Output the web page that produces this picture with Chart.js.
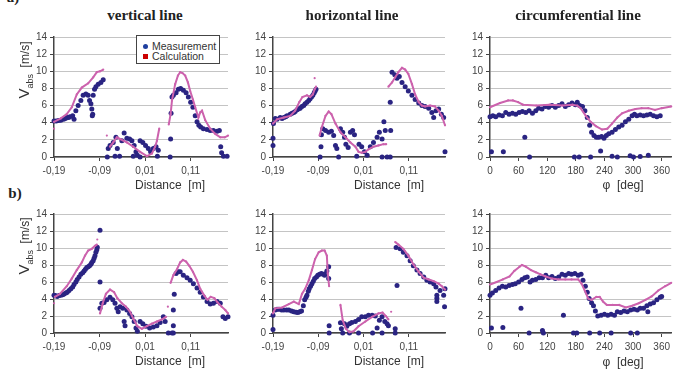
<!DOCTYPE html>
<html><head><meta charset="utf-8">
<script src="https://cdn.jsdelivr.net/npm/chart.js@4.4.1/dist/chart.umd.min.js"></script>
<style>
html,body{margin:0;padding:0;width:674px;height:371px;overflow:hidden;background:#fff;}
canvas{position:absolute;}
.t{position:absolute;white-space:nowrap;color:#222;z-index:5;}
.ttl{font:bold 15px 'Liberation Serif','Times New Roman',serif;transform:translate(-50%,-50%);}
.ax{font:12px 'Liberation Sans',Arial,sans-serif;color:#333;transform:translate(-50%,-50%);}
.yl{font:12px 'Liberation Sans',Arial,sans-serif;color:#333;transform:translate(-50%,-50%) rotate(-90deg);}
.lg{position:absolute;left:136px;top:35px;width:82px;height:27px;border:1px solid #444;background:#fff;z-index:6;font:10.5px 'Liberation Sans',Arial,sans-serif;color:#333;}
.lg div{position:absolute;left:6px;height:10px;line-height:10px;white-space:nowrap;}
.mk{display:inline-block;width:5px;height:5px;margin-right:4px;vertical-align:1px;}
</style></head><body>
<div class="t ttl" style="left:13px;top:-3px;">a)</div>
<div class="t ttl" style="left:15px;top:193px;">b)</div>
<div class="t ttl" style="left:145px;top:15px;">vertical line</div>
<div class="t ttl" style="left:352px;top:15px;">horizontal line</div>
<div class="t ttl" style="left:578px;top:15px;">circumferential line</div>
<div class="t yl" style="left:25px;top:70px;"><span style="font-size:15px">V</span><sub style="font-size:9px">abs</sub>&nbsp; [m/s]</div>
<div class="t yl" style="left:25px;top:246px;"><span style="font-size:15px">V</span><sub style="font-size:9px">abs</sub>&nbsp; [m/s]</div>
<div class="t ax" style="left:170px;top:185px;">Distance&nbsp; [m]</div>
<div class="t ax" style="left:389px;top:185px;">Distance&nbsp; [m]</div>
<div class="t ax" style="left:623px;top:185px;">&phi;&nbsp; [deg]</div>
<div class="t ax" style="left:170px;top:361px;">Distance&nbsp; [m]</div>
<div class="t ax" style="left:389px;top:361px;">Distance&nbsp; [m]</div>
<div class="t ax" style="left:623px;top:362px;">&phi;&nbsp; [deg]</div>
<div class="lg">
  <div style="top:5px;"><span class="mk" style="background:#1f3f9f;border-radius:50%;"></span>Measurement</div>
  <div style="top:15px;"><span class="mk" style="background:#cc0000;"></span>Calculation</div>
</div>
<script>
// ---- tick labels ----
const distTicks = [-0.19, -0.09, 0.01, 0.11];
const phiTicks = [0, 60, 120, 180, 240, 300, 360];
const vTicks = [0, 2, 4, 6, 8, 10, 12, 14];

// ---- a) vertical line ----
const vertA_calc = [
  [[-0.19,3.3]],
  [[-0.19,4.1],[-0.175,4.5],[-0.162,5.0],[-0.151,5.8],[-0.14,7.3],[-0.129,8.1],[-0.115,8.6],[-0.104,9.3],[-0.096,9.9],[-0.089,10.0],[-0.082,10.2]],
  [[-0.074,2.5]],
  [[-0.067,1.2],[-0.06,1.7],[-0.052,2.3],[-0.045,2.1],[-0.03,1.7],[-0.016,1.2],[-0.001,0.6],[0.014,0.1],[0.025,0.4],[0.032,1.2],[0.036,1.9],[0.041,3.3]],
  [[0.062,3.8],[0.066,5.0],[0.069,6.6],[0.076,8.5],[0.082,9.5],[0.087,9.9],[0.092,9.8],[0.098,9.5],[0.104,8.7],[0.109,7.7],[0.115,6.7],[0.12,5.8],[0.127,4.6],[0.131,5.2],[0.135,5.4],[0.142,4.3],[0.153,3.3],[0.164,2.7],[0.175,2.3],[0.185,2.3],[0.192,2.5]]
];
const vertA_meas = [
  [-0.19,4.2],[-0.185,4.2],[-0.18,4.25],[-0.175,4.3],[-0.169,4.4],[-0.165,4.5],[-0.162,4.6],[-0.158,4.6],[-0.155,4.7],[-0.149,4.8],[-0.146,4.4],[-0.142,5.4],[-0.137,6.0],[-0.131,6.6],[-0.126,7.2],[-0.12,7.35],[-0.115,7.2],[-0.112,6.6],[-0.109,6.2],[-0.107,5.6],[-0.105,5.0],[-0.106,4.8],[-0.104,7.2],[-0.101,7.9],[-0.098,8.2],[-0.093,8.5],[-0.087,8.7],[-0.082,9.0],
  [-0.073,0],[-0.071,1.0],[-0.067,1.35],[-0.06,1.7],[-0.054,2.3],[-0.051,1.0],[-0.046,0.1],[-0.056,0.1],[-0.041,1.9],[-0.036,2.8],[-0.03,2.2],[-0.024,2.1],[-0.019,1.9],[-0.014,1.35],[-0.01,0.6],[-0.007,0.2],[-0.016,0.1],[-0.001,1.9],[-0.001,0],[0.005,1.7],[0.011,1.35],[0.017,1.0],[0.022,0.6],[0.028,1.0],[0.034,1.2],[0.037,0.1],[0.039,0.8],
  [0.065,0],[0.066,2.1],[0.067,5.1],[0.069,7.0],[0.072,7.2],[0.078,7.5],[0.083,7.9],[0.088,8.0],[0.094,7.8],[0.1,7.5],[0.105,7.0],[0.11,6.4],[0.115,5.8],[0.12,4.8],[0.124,4.1],[0.128,3.7],[0.132,3.5],[0.138,3.3],[0.146,3.2],[0.153,3.1],[0.16,3.1],[0.168,3.0],[0.173,3.1],[0.176,1.2],[0.178,0.5],[0.182,0.1],[0.19,0.1]
];

// ---- a) horizontal line ----
const horzA_calc = [
  [[-0.19,3.9],[-0.181,4.4],[-0.166,4.6],[-0.152,4.8],[-0.141,5.4],[-0.132,6.4],[-0.125,7.0],[-0.115,7.2],[-0.108,7.0],[-0.102,7.3],[-0.098,7.9],[-0.095,8.2]],
  [[-0.098,9.2]],
  [[-0.087,2.5],[-0.082,3.5],[-0.074,4.8],[-0.067,5.3],[-0.061,5.0],[-0.052,3.9],[-0.041,2.9],[-0.03,2.3],[-0.019,1.7],[-0.008,1.2],[-0.001,0.6],[0.006,0.5],[0.014,0.6],[0.021,0.9],[0.032,1.2],[0.043,1.35],[0.054,1.5],[0.06,1.5]],
  [[0.065,8.2],[0.073,8.7],[0.08,9.3],[0.087,9.9],[0.095,10.4],[0.102,10.2],[0.109,9.7],[0.117,8.5],[0.124,7.3],[0.132,6.4],[0.139,6.0],[0.146,5.9],[0.157,6.0],[0.168,5.9],[0.176,5.4],[0.183,4.8],[0.19,3.7]]
];
const horzA_meas = [
  [-0.19,1.35],[-0.19,2.2],[-0.189,3.9],[-0.185,4.5],[-0.181,4.4],[-0.174,4.6],[-0.17,4.5],[-0.166,4.6],[-0.162,4.7],[-0.159,4.8],[-0.152,5.0],[-0.148,5.1],[-0.144,5.2],[-0.141,5.3],[-0.137,5.5],[-0.134,5.6],[-0.13,5.7],[-0.126,5.9],[-0.122,6.0],[-0.119,6.2],[-0.115,6.4],[-0.111,6.6],[-0.108,6.8],[-0.105,7.0],[-0.102,7.2],[-0.099,7.5],[-0.097,7.7],[-0.095,7.9],
  [-0.086,0],[-0.084,1.2],[-0.083,2.6],[-0.08,3.3],[-0.074,3.1],[-0.067,2.9],[-0.061,3.0],[-0.056,2.5],[-0.052,1.35],[-0.049,1.0],[-0.045,0],[-0.041,3.3],[-0.036,2.9],[-0.032,2.3],[-0.029,1.5],[-0.024,1.1],[-0.019,2.9],[-0.014,3.1],[-0.01,2.6],[-0.005,0.1],[0.0,1.5],[0.006,1.2],[0.012,0.6],[0.018,0.2],[0.025,1.2],[0.032,1.7],[0.04,2.3],[0.045,2.9],[0.051,2.1],[0.055,4.1],[0.058,3.1],[0.051,0],[0.062,0],[0.069,0],
  [0.069,6.4],[0.07,3.1],[0.073,9.9],[0.079,9.6],[0.084,9.2],[0.089,9.4],[0.095,8.7],[0.102,8.2],[0.109,7.7],[0.117,7.2],[0.124,6.7],[0.132,6.3],[0.139,6.0],[0.146,5.9],[0.154,5.7],[0.161,5.2],[0.165,4.6],[0.17,5.4],[0.176,5.6],[0.182,5.0],[0.187,4.6],[0.19,0.6]
];

// ---- a) circumferential line ----
const circA_calc = [
  [[0,5.8],[21,6.3],[38,6.6],[48,6.6],[59,6.4],[69,6.1],[97,6.0],[125,6.1],[152,6.0],[173,6.1],[183,6.0],[190,5.7],[201,4.8],[211,4.1],[222,3.6],[235,3.2],[246,3.3],[256,3.9],[267,4.6],[277,5.1],[291,5.4],[305,5.6],[318,5.7],[332,5.7],[346,5.5],[360,5.7],[380,5.9]]
];
const circA_meas = [
  [0,4.7],[6,4.8],[12,4.7],[19,4.9],[26,4.8],[33,5.2],[40,5.0],[47,5.1],[54,5.0],[61,5.2],[68,5.3],[75,5.2],[82,5.4],[89,5.1],[96,5.4],[102,5.7],[109,5.6],[116,5.9],[123,5.8],[130,6.0],[137,5.8],[144,6.0],[151,6.2],[158,5.9],[165,6.1],[172,6.3],[179,6.1],[183,6.4],[188,6.0],[194,5.9],[199,5.4],[204,4.6],[209,3.7],[213,2.9],[218,2.5],[223,2.3],[228,2.3],[234,2.4],[239,2.2],[244,2.5],[249,2.7],[256,2.9],[263,3.2],[270,3.5],[277,3.7],[284,4.1],[291,4.4],[298,4.8],[303,5.0],[308,4.8],[315,4.9],[322,4.8],[329,4.9],[336,5.0],[343,4.8],[350,4.7],[357,4.8],
  [3,0.6],[28,0.6],[73,2.3],[83,0],[177,0],[187,0],[211,0],[232,0.7],[256,0.1],[267,0],[294,0.15],[301,0],[315,0.05],[332,0.2]
];

// ---- b) vertical line ----
const vertB_calc = [
  [[-0.19,3.5]],
  [[-0.188,4.25],[-0.177,4.6],[-0.162,5.5],[-0.151,6.4],[-0.14,7.4],[-0.129,8.3],[-0.122,9.1],[-0.115,9.7],[-0.107,9.9],[-0.1,10.25],[-0.096,10.4]],
  [[-0.095,11.0]],
  [[-0.089,2.3],[-0.083,3.5],[-0.076,4.6],[-0.067,5.1],[-0.058,4.8],[-0.051,4.1],[-0.041,3.5],[-0.032,3.1],[-0.023,2.5],[-0.016,1.7],[-0.007,0.8],[0.003,0.5],[0.014,0.8],[0.025,1.1],[0.036,1.35],[0.047,1.6],[0.056,1.9]],
  [[0.06,3.1]],
  [[0.066,5.9],[0.072,6.8],[0.08,7.5],[0.087,8.3],[0.093,8.6],[0.1,8.4],[0.107,7.9],[0.115,7.2],[0.124,6.2],[0.131,5.2],[0.14,4.4],[0.147,3.9],[0.154,4.25],[0.162,4.1],[0.169,3.6],[0.178,3.1],[0.186,2.7],[0.192,2.3]]
];
const vertB_meas = [
  [-0.19,4.45],[-0.187,4.4],[-0.183,4.3],[-0.179,4.4],[-0.175,4.45],[-0.171,4.5],[-0.168,4.6],[-0.164,4.7],[-0.161,4.8],[-0.157,5.0],[-0.153,5.2],[-0.149,5.4],[-0.146,5.7],[-0.142,6.0],[-0.139,6.3],[-0.135,6.6],[-0.131,6.9],[-0.127,7.1],[-0.124,7.3],[-0.121,7.5],[-0.118,7.7],[-0.115,7.8],[-0.112,7.9],[-0.109,8.1],[-0.107,8.3],[-0.104,8.5],[-0.102,8.8],[-0.1,9.1],[-0.098,9.5],[-0.096,9.8],[-0.095,10.1],
  [-0.089,12.1],[-0.089,6.0],
  [-0.089,2.9],[-0.085,3.5],[-0.08,3.6],[-0.074,3.9],[-0.067,4.2],[-0.061,3.9],[-0.056,3.5],[-0.052,2.9],[-0.049,2.5],[-0.045,3.1],[-0.039,2.9],[-0.036,1.35],[-0.034,0.85],[-0.03,2.7],[-0.024,2.3],[-0.019,1.9],[-0.014,1.35],[-0.01,0.6],[-0.007,0.2],[-0.001,1.35],[0.005,1.1],[0.012,0.8],[0.02,0.6],[0.028,0.7],[0.036,0.85],[0.043,1.25],[0.05,1.9],[0.054,1.35],
  [0.061,0],[0.069,0],[0.072,0],[0.072,0.85],[0.072,2.7],[0.074,4.55],[0.078,7.0],[0.083,7.2],[0.087,7.2],[0.094,6.8],[0.102,6.5],[0.109,6.2],[0.116,5.8],[0.124,5.3],[0.131,4.8],[0.138,4.25],[0.146,3.7],[0.153,3.4],[0.16,3.5],[0.168,3.7],[0.175,3.5],[0.181,1.9],[0.186,1.7],[0.192,1.9]
];

// ---- b) horizontal line ----
const horzB_calc = [
  [[-0.19,2.3],[-0.185,2.9],[-0.17,3.0],[-0.155,3.4],[-0.144,3.7],[-0.133,3.4],[-0.126,4.6],[-0.119,5.2],[-0.111,6.2],[-0.104,7.4],[-0.097,8.7],[-0.089,9.5],[-0.082,9.7],[-0.076,9.7],[-0.071,9.1],[-0.069,7.0],[-0.066,5.5]],
  [[-0.041,3.3],[-0.036,1.5],[-0.029,0.5],[-0.021,0.1],[-0.012,0.2],[-0.001,0.8],[0.014,1.35],[0.029,1.9],[0.043,2.3],[0.052,2.4],[0.059,2.0],[0.065,1.6]],
  [[0.071,2.5]],
  [[0.08,10.7],[0.087,10.4],[0.098,9.9],[0.109,9.1],[0.12,8.1],[0.132,7.2],[0.143,6.5],[0.154,6.3],[0.165,6.1],[0.176,5.8],[0.183,5.5],[0.19,5.1]]
];
const horzB_meas = [
  [-0.19,0.4],[-0.19,2.1],[-0.185,2.7],[-0.181,2.8],[-0.177,2.8],[-0.171,2.7],[-0.166,2.7],[-0.16,2.7],[-0.155,2.7],[-0.149,2.6],[-0.144,2.5],[-0.139,2.45],[-0.135,2.4],[-0.131,2.5],[-0.127,2.6],[-0.123,3.2],[-0.12,3.9],[-0.117,4.2],[-0.115,4.45],[-0.112,4.9],[-0.11,5.2],[-0.107,5.5],[-0.104,5.8],[-0.101,6.1],[-0.098,6.4],[-0.094,6.6],[-0.091,6.8],[-0.087,6.9],[-0.083,7.0],[-0.079,6.9],[-0.076,6.8],[-0.073,7.0],[-0.071,7.3],[-0.067,7.8],[-0.067,6.4],[-0.066,0.85],[-0.066,0],
  [-0.041,1.2],[-0.039,0.5],[-0.036,0],[-0.032,1.1],[-0.027,0.8],[-0.021,1.1],[-0.021,0],[-0.016,1.25],[-0.008,1.35],[-0.001,1.6],[-0.001,0],[0.006,1.9],[0.014,1.9],[0.021,2.1],[0.029,2.1],[0.03,0],[0.036,2.0],[0.04,0.6],[0.045,1.5],[0.051,1.9],[0.051,0],[0.057,1.35],[0.062,1.1],[0.065,0.85],[0.08,0.5],[0.08,0],
  [0.082,10.05],[0.084,5.6],[0.091,9.9],[0.098,9.5],[0.106,9.1],[0.113,8.5],[0.12,7.9],[0.128,7.4],[0.135,7.0],[0.143,6.6],[0.15,6.2],[0.157,6.0],[0.165,5.8],[0.17,5.4],[0.172,4.45],[0.172,4.1],[0.172,3.7],[0.179,5.0],[0.187,4.45],[0.189,3.1],[0.19,5.2]
];

// ---- b) circumferential line ----
const circB_calc = [
  [[0,5.7],[14,6.0],[27,6.3],[41,6.65],[51,7.3],[62,7.8],[67,8.0],[75,7.8],[86,7.4],[96,7.15],[106,6.9],[117,6.65],[130,6.4],[144,6.3],[158,6.3],[171,6.3],[185,6.3],[192,5.8],[199,4.95],[206,4.05],[213,3.9],[223,4.25],[230,4.25],[237,3.7],[245,3.3],[257,3.3],[271,3.3],[285,3.0],[298,3.2],[312,3.5],[326,3.9],[339,4.3],[353,5.0],[367,5.5],[380,5.9]]
];
const circB_meas = [
  [0,4.45],[5,4.7],[12,5.0],[19,5.3],[26,5.5],[33,5.4],[40,5.6],[47,5.7],[53,5.8],[60,6.0],[67,6.3],[73,6.5],[78,6.6],[84,6.0],[89,6.2],[96,6.3],[103,6.5],[110,6.5],[117,6.8],[123,6.5],[130,6.65],[137,6.4],[144,6.6],[151,6.9],[158,6.8],[165,7.0],[171,6.9],[178,7.0],[185,6.8],[191,6.9],[195,6.2],[200,5.5],[204,4.8],[208,4.05],[213,3.55],[217,3.2],[221,2.6],[226,2.0],[233,2.1],[240,2.2],[247,2.1],[254,2.2],[261,2.1],[267,2.5],[274,2.4],[281,2.6],[288,2.5],[295,2.7],[302,2.8],[309,2.7],[315,2.9],[322,2.9],[329,3.2],[336,3.4],[343,3.55],[350,3.9],[357,4.2],[360,4.3],
  [3,0.6],[27,0.65],[65,2.9],[82,0],[110,0.3],[112,0],[154,2.1],[175,0],[182,0],[209,0],[230,0],[254,0],[295,0],[309,0],[331,2.5]
];

// ---- helpers ----
function segPoints(segs){
  const out=[];
  segs.forEach((seg,i)=>{
    if(i>0) out.push({x:seg[0][0], y:null});
    seg.forEach(p=>out.push({x:p[0], y:p[1]}));
  });
  return out;
}
function flatPoints(arr){ return arr.map(p=>({x:p[0], y:p[1]})); }
const fmtDist = v => v.toFixed(2).replace('.', ',');
const fmtPhi = v => String(v);

function panel(box, xmin, xmax, xt, fmt, meas, calc){
  const L=40, T=8, B=24, R=box.rp;
  const W = box.r - box.l + L + R, H = box.b - box.t + T + B;
  const c = document.createElement('canvas');
  c.width=W; c.height=H;
  c.style.left=(box.l-L)+'px'; c.style.top=(box.t-T)+'px';
  c.style.width=W+'px'; c.style.height=H+'px';
  document.body.appendChild(c);
  const tickFont = {family:"'Liberation Sans', Arial, sans-serif", size:10};
  new Chart(c, {
    type:'scatter',
    data:{datasets:[
      {label:'Calculation', data:segPoints(calc), showLine:true, spanGaps:false, borderColor:'#cc62ad', borderWidth:2,
       pointRadius:1.1, pointBackgroundColor:'#cc62ad', pointBorderWidth:0, clip:false, tension:0},
      {label:'Measurement', data:flatPoints(meas), showLine:false, pointRadius:2.5, pointBackgroundColor:'#2a2482',
       pointBorderWidth:0, clip:false}
    ]},
    options:{
      responsive:false, animation:false, devicePixelRatio:1,
      layout:{padding:{left:0,right:R,top:T,bottom:0}, autoPadding:false},
      plugins:{legend:{display:false}, tooltip:{enabled:false}},
      scales:{
        x:{type:'linear', min:xmin, max:xmax,
           afterBuildTicks:s=>{ s.ticks = xt.map(v=>({value:v})); },
           afterFit:s=>{ s.height = B; },
           grid:{drawOnChartArea:false, drawTicks:true, tickLength:4, tickColor:'#444', tickWidth:1},
           border:{display:true, color:'#444', width:1.5},
           ticks:{padding:4, color:'#444', font:tickFont, callback:fmt, maxRotation:0, autoSkip:false}},
        y:{type:'linear', min:0, max:14,
           afterBuildTicks:s=>{ s.ticks = vTicks.map(v=>({value:v})); },
           afterFit:s=>{ s.width = L; },
           grid:{drawOnChartArea:true, color:'#c4c4c4', lineWidth:1, drawTicks:true, tickLength:4, tickColor:'#444'},
           border:{display:true, color:'#444', width:1.5},
           ticks:{padding:3, color:'#444', font:tickFont, callback:v=>String(v)}}
      }
    }
  });
}

const rowA = {t:36, b:157}, rowB = {t:213, b:333};
panel({l:54,r:228,rp:6,t:rowA.t,b:rowA.b}, -0.19, 0.192, distTicks, fmtDist, vertA_meas, vertA_calc);
panel({l:273,r:445,rp:6,t:rowA.t,b:rowA.b}, -0.19, 0.19, distTicks, fmtDist, horzA_meas, horzA_calc);
panel({l:490,r:674,rp:0,t:rowA.t,b:rowA.b}, 0, 380, phiTicks, fmtPhi, circA_meas, circA_calc);
panel({l:54,r:228,rp:6,t:rowB.t,b:rowB.b}, -0.19, 0.192, distTicks, fmtDist, vertB_meas, vertB_calc);
panel({l:273,r:445,rp:6,t:rowB.t,b:rowB.b}, -0.19, 0.19, distTicks, fmtDist, horzB_meas, horzB_calc);
panel({l:490,r:674,rp:0,t:rowB.t,b:rowB.b}, 0, 380, phiTicks, fmtPhi, circB_meas, circB_calc);
</script>
</body></html>
